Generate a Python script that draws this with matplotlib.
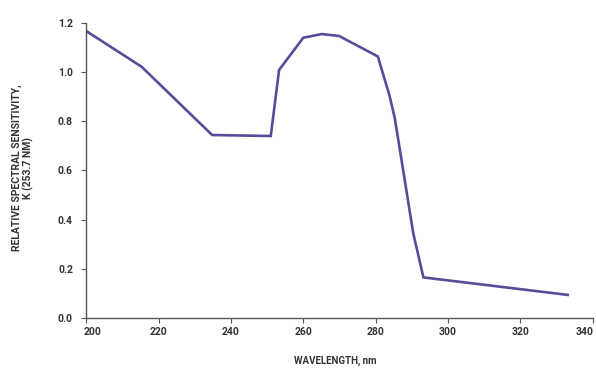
import matplotlib
matplotlib.use("Agg")
import matplotlib.pyplot as plt
import matplotlib.transforms as mtransforms

wavelength = [200, 215.3, 234.8, 251.0, 253.3, 260.0, 265.1, 269.9, 280.6, 283.8, 285.3, 290.4, 293.2, 333.1]
sensitivity = [1.166, 1.021, 0.744, 0.740, 1.008, 1.139, 1.154, 1.146, 1.063, 0.906, 0.812, 0.345, 0.166, 0.095]
x_ticks = [200, 220, 240, 260, 280, 300, 320, 340]
y_ticks = [0.0, 0.2, 0.4, 0.6, 0.8, 1.0, 1.2]

plt.rcParams['font.family'] = ['Roboto', 'DejaVu Sans']

fig = plt.figure(figsize=(5.96, 3.69), dpi=100)
ax = fig.add_axes([0.1448, 0.1374, 0.9944 - 0.1448, 0.9385 - 0.1374])
ax.plot(wavelength, sensitivity, color='#574c99', lw=1.9, solid_joinstyle='miter')
ax.set_xlim(200, 340)
ax.set_ylim(0, 1.2)
ax.set_xticks(x_ticks)
ax.set_yticks(y_ticks)
ax.set_yticklabels([f"{v:.1f}" for v in y_ticks])
for s in ['top', 'right']:
    ax.spines[s].set_visible(False)
for s in ['left', 'bottom']:
    ax.spines[s].set_color('#555555')
    ax.spines[s].set_linewidth(1.0)
ax.tick_params(axis='both', direction='out', length=3.6, width=0.8, color='#555555',
               labelsize=7.5, labelcolor='#333333')
ax.tick_params(axis='x', pad=2.5)
ax.tick_params(axis='y', pad=6)
for lbl in ax.get_xticklabels() + ax.get_yticklabels():
    lbl.set_fontweight('bold')

xl = ax.get_xticklabels()
xl[0].set_transform(xl[0].get_transform() + mtransforms.ScaledTranslation(6/100, 0, fig.dpi_scale_trans))
xl[-1].set_transform(xl[-1].get_transform() + mtransforms.ScaledTranslation(-8/100, 0, fig.dpi_scale_trans))

ax.set_xlabel("WAVELENGTH, nm", fontsize=7, fontweight='bold', color='#333333')
ax.xaxis.set_label_coords(0.491, -0.128)
fig.text(0.038, 0.545, "RELATIVE SPECTRAL SENSITIVITY,\nK (253.7 NM)", rotation=90,
         ha='center', va='center', fontsize=7.5, fontweight='bold', color='#333333',
         linespacing=1.15)
fig.savefig("out.png", dpi=100)
